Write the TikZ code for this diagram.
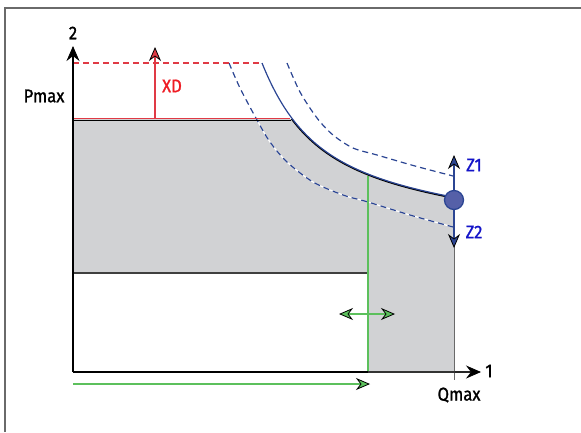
\documentclass[tikz,border=0pt]{standalone}
\usepackage{fontspec}
\setmainfont{Fira Sans}[FakeBold=1.2,FakeStretch=0.9]
\usetikzlibrary{arrows.meta}
\definecolor{areagray}{HTML}{D1D2D4}
\definecolor{curveblue}{HTML}{2B4593}
\definecolor{dotblue}{HTML}{5560A8}
\definecolor{textblue}{HTML}{1414C8}
\definecolor{linered}{HTML}{E03A45}
\definecolor{textred}{HTML}{EE1C24}
\definecolor{linegreen}{HTML}{5CC05C}
\definecolor{framegray}{HTML}{6A6A6A}
\tikzset{
  lbl/.style={font=\fontsize{18.5}{20}\selectfont, inner sep=0pt},
  bigtip/.style={-{Stealth[length=15pt,width=13pt,inset=5pt,line width=0.8pt,color=black,fill=#1]}},
  smalltip/.style={-{Stealth[length=14pt,width=12pt,inset=4.5pt,line width=0.8pt,color=black,fill=#1]}},
  dbltip/.style={{Stealth[length=14pt,width=12pt,inset=4.5pt,line width=0.8pt,color=black,fill=#1]}-{Stealth[length=14pt,width=12pt,inset=4.5pt,line width=0.8pt,color=black,fill=#1]}},
  bluedash/.style={curveblue, line width=1.2pt, dash pattern=on 6pt off 4pt},
}
\begin{document}
\begin{tikzpicture}[x=1pt,y=-1pt]
\useasboundingbox (0,0) rectangle (581,432);
% frame
\draw[framegray, line width=2pt] (5,432) -- (5,8) -- (581,8);
% key coordinates
\coordinate (O) at (73,372);
\coordinate (Ytip) at (73,46);
\coordinate (Xtip) at (481,372);
\coordinate (P) at (454,200);
% gray area
\begin{scope}
  \clip (73,119) rectangle (455,372);
  \fill[areagray] (73,63) -- (262,63) .. controls (295,145) and (340,175) .. (455,197) -- (454,372) -- (73,372) -- cycle;
  \draw[black, line width=1.4pt, yshift=-1.3pt] (262,63) .. controls (295,145) and (340,175) .. (455,197);
\end{scope}
% white rectangle
\fill[white] (73,273) rectangle (368,372);
\draw[framegray!60!black, line width=2pt] (73,273) -- (368,273);
% right edge of area and tick
\draw[framegray, line width=1.3pt] (454.5,208) -- (454.5,380);
% dashed curves
\draw[white, line width=1.2pt] plot[smooth] coordinates {(229,63) (240,88) (257,120) (270,142) (287,162) (313,182) (343,195) (368,202) (410,215) (453,227)};
\draw[bluedash] plot[smooth] coordinates {(229,63) (240,88) (257,120) (270,142) (287,162) (313,182) (343,195) (368,202) (410,215) (453,227)};
\draw[bluedash] plot[smooth] coordinates {(287,63) (300,92) (317,118) (333,135) (353,148) (377,155) (415,166) (453,176)};
% green vertical line
\draw[linegreen, line width=1.4pt] (368,176) -- (368,372);
% red lines
\draw[black, line width=1.3pt] (73,120.5) -- (291,120.5);
\draw[linered, line width=1.6pt] (73,118.5) -- (290,118.5);
\draw[linered, line width=1.3pt, dash pattern=on 6pt off 4pt] (73,63) -- (262,63);
\coordinate (XDbase) at (155,118.5);
\coordinate (XDtip) at (155,47);
\draw[linered, line width=1.4pt, smalltip=linered] (XDbase) -- (XDtip);
% main blue curve
\draw[curveblue, line width=1.2pt] (262,63) .. controls (295,145) and (340,175) .. (450,196.5);
% axes
\draw[black, line width=2.2pt] (O) -- (368,372);
\draw[black!80, line width=1.6pt] (368,372) -- (455,372);
\draw[black!85, line width=1.3pt, bigtip=black] (455,372) -- (Xtip);
\draw[black, line width=1.6pt, bigtip=black] (O) -- (Ytip);
% Z arrows
\coordinate (Z1tip) at (454,155);
\coordinate (Z2tip) at (454,248);
\draw[curveblue, line width=1.3pt, smalltip=curveblue] (P) -- (Z1tip);
\draw[curveblue, line width=1.3pt, smalltip=curveblue] (P) -- (Z2tip);
\node[circle, minimum size=19pt, inner sep=0pt, fill=dotblue, draw=curveblue, line width=1.3pt] (dot) at (P) {};
% green arrows
\coordinate (GL) at (339,314);
\coordinate (GR) at (395,314);
\draw[linegreen, line width=1.3pt, dbltip=linegreen] (GL) -- (GR);
\coordinate (GBs) at (73,384);
\coordinate (GBe) at (370,384);
\draw[linegreen, line width=1.4pt, smalltip=linegreen] (GBs) -- (GBe);
% labels
\node[lbl] (two) at (73,33) {2};
\node[lbl] (one) at (489,371) {1};
\node[lbl] (pmax) at (44,96) {Pmax};
\node[lbl] (qmax) at (459,395) {Qmax};
\node[lbl, text=textred] (xd) at (172,86) {XD};
\node[lbl, text=textblue] (z1) at (474,165) {Z1};
\node[lbl, text=textblue] (z2) at (474,232) {Z2};
\end{tikzpicture}
\end{document}
